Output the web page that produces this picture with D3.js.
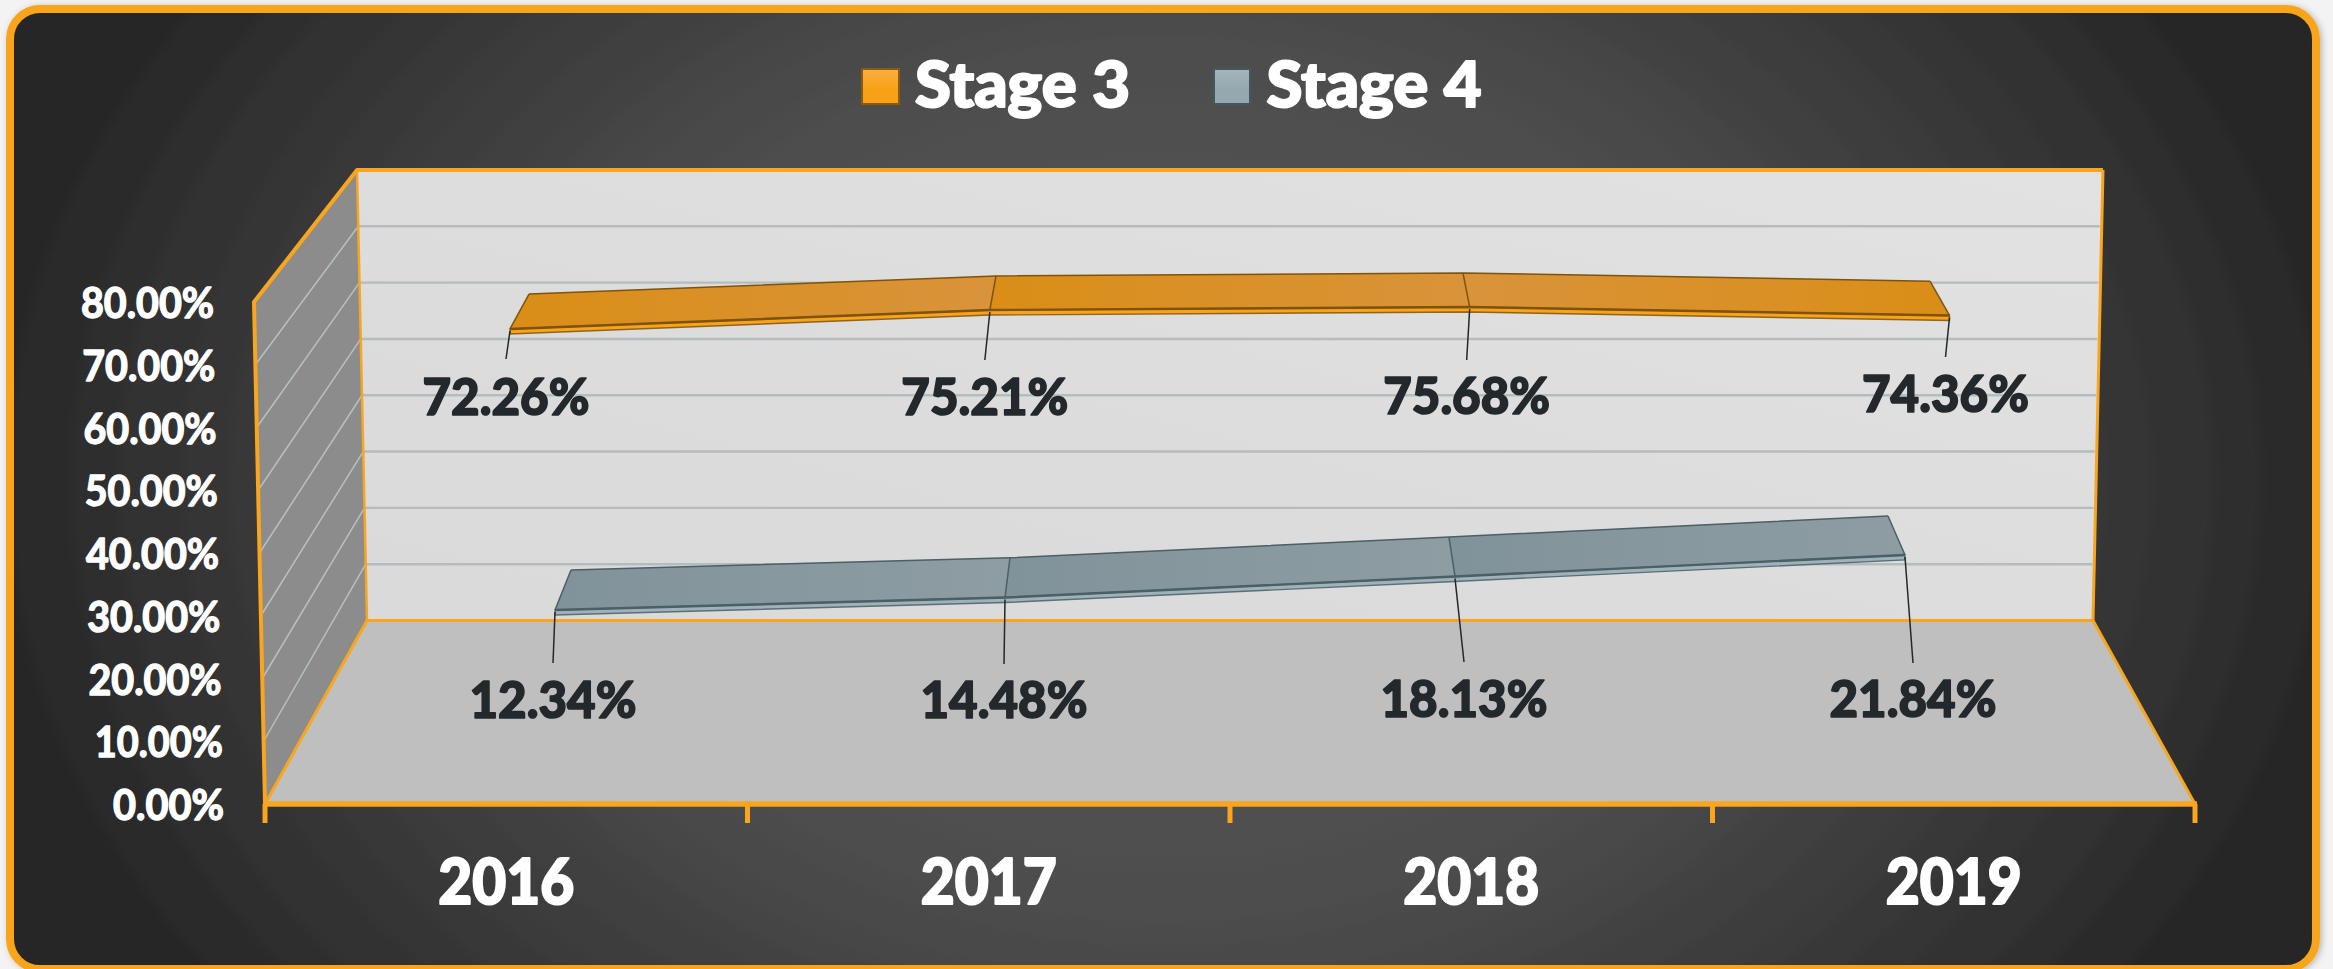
<!DOCTYPE html>
<html>
<head>
<meta charset="utf-8">
<script src="https://cdn.jsdelivr.net/npm/d3@7/dist/d3.min.js"></script>
<style>
html,body{margin:0;padding:0;background:#f3f3f3;overflow:hidden}
svg{display:block}
text{font-family:Lato,"Open Sans",sans-serif;font-weight:700}
</style>
</head>
<body>
<svg id="chart" width="2333" height="969"></svg>
<script>
// ---- data ----
const years = ["2016", "2017", "2018", "2019"];
const stage3 = [72.26, 75.21, 75.68, 74.36];
const stage4 = [12.34, 14.48, 18.13, 21.84];
const seriesNames = ["Stage 3", "Stage 4"];
const valueTicks = [0, 10, 20, 30, 40, 50, 60, 70, 80];

// ---- layout of the pseudo 3D box ----
const ORANGE = "#f9a51e";
const box = {
  frontL: 265, frontR: 2195, frontY0: 804, frontY80: 302, frontLTop: 254, frontRTop: 2206,
  backL: 367, backLTop: 357, backR: 2093, backRTop: 2103, backY0: 620.5, backY80: 170
};
const maxV = 80;
const yFront = d3.scaleLinear().domain([0, maxV]).range([box.frontY0, box.frontY80]);
const yBack = d3.scaleLinear().domain([0, maxV]).range([box.backY0, box.backY80]);
const xFrontL = d3.scaleLinear().domain([0, maxV]).range([box.frontL, box.frontLTop]);
const xBackL = d3.scaleLinear().domain([0, maxV]).range([box.backL, box.backLTop]);
const xBackR = d3.scaleLinear().domain([0, maxV]).range([box.backR, box.backRTop]);
const xBand = d3.scaleBand().domain(years).range([box.frontL, box.frontR]);

// each ribbon lies between two depth planes; each plane has its own projection
function plane(x0, x3, y0, k) {
  const x = d3.scaleLinear().domain([0, years.length - 1]).range([x0, x3]);
  const y = d3.scaleLinear().domain([0, maxV]).range([y0, y0 - maxV * k]);
  return {x, y};
}
const ribbons = [
  {name: seriesNames[0], values: stage3, front: plane(510, 1949.5, 793.6, 6.43), back: plane(529, 1930, 737.7, 6.14),
   faceA: "#da8e17", faceB: "#d9933a", edge: "#7f530c", strip: "#f8a31c",
   pull: [-4, -5, -3, -4], leaderEnd: [359, 360, 360, 357], labelBase: [415, 415, 414, 412]},
  {name: seriesNames[1], values: stage4, front: plane(555, 1905, 681.4, 5.79), back: plane(571, 1888, 640, 5.68),
   faceA: "#81939a", faceB: "#8d9da2", edge: "#4b5f67", strip: "#9fb2b9",
   pull: [-2, -1, 9, 8], leaderEnd: [663, 664, 662, 663], labelBase: [718, 718, 717, 717]}
];

const svg = d3.select("#chart");
const defs = svg.append("defs");

const bg = defs.append("radialGradient").attr("id", "bg").attr("gradientUnits", "userSpaceOnUse")
  .attr("cx", 1166).attr("cy", 480).attr("r", 1166)
  .attr("gradientTransform", "translate(1166 480) scale(1 0.75) translate(-1166 -480)");
bg.append("stop").attr("offset", "0").attr("stop-color", "#5a5a5a");
bg.append("stop").attr("offset", "0.5").attr("stop-color", "#4d4d4d");
bg.append("stop").attr("offset", "1").attr("stop-color", "#282828");

const wallG = defs.append("linearGradient").attr("id", "wall").attr("x1", 1).attr("y1", 0).attr("x2", 0).attr("y2", 1);
wallG.append("stop").attr("offset", "0").attr("stop-color", "#e2e2e2");
wallG.append("stop").attr("offset", "0.6").attr("stop-color", "#dcdcdc");
wallG.append("stop").attr("offset", "1").attr("stop-color", "#dadada");

const sh = defs.append("filter").attr("id", "shadow").attr("x", "-2%").attr("y", "-2%").attr("width", "104%").attr("height", "104%");
sh.append("feDropShadow").attr("dx", 2).attr("dy", 1).attr("stdDeviation", 3).attr("flood-color", "#000").attr("flood-opacity", 0.25);

// card
svg.append("rect").attr("x", 10).attr("y", 9).attr("width", 2306).attr("height", 960).attr("rx", 30)
  .attr("fill", "url(#bg)").attr("stroke", ORANGE).attr("stroke-width", 8).attr("filter", "url(#shadow)");

// walls
const poly = pts => "M" + pts.map(p => p.join(",")).join("L") + "Z";
svg.append("path").attr("d", poly([[xFrontL(maxV), yFront(maxV)], [xBackL(maxV), yBack(maxV)], [xBackL(0), yBack(0)], [xFrontL(0), yFront(0)]]))
  .attr("fill", "#8c8c8c");
svg.append("path").attr("d", poly([[xBackL(maxV), yBack(maxV)], [xBackR(maxV), yBack(maxV)], [xBackR(0), yBack(0)], [xBackL(0), yBack(0)]]))
  .attr("fill", "url(#wall)");
svg.append("path").attr("d", poly([[box.backL, box.backY0], [box.backR, box.backY0], [box.frontR, box.frontY0], [box.frontL, box.frontY0]]))
  .attr("fill", "#bfbfbf");

// gridlines
const gridVals = valueTicks.filter(v => v > 0 && v < maxV);
svg.append("g").selectAll("line").data(gridVals).join("line")
  .attr("x1", v => xBackL(v)).attr("x2", v => xBackR(v) - 2).attr("y1", v => yBack(v)).attr("y2", v => yBack(v))
  .attr("stroke", "#b3bdbe").attr("stroke-width", 2.4);
svg.append("g").selectAll("line").data(gridVals).join("line")
  .attr("x1", v => xFrontL(v)).attr("x2", v => xBackL(v)).attr("y1", v => yFront(v)).attr("y2", v => yBack(v))
  .attr("stroke", "#b8c0c1").attr("stroke-width", 1.5);

// box outlines
const outline = (pts, w) => svg.append("path").attr("d", "M" + pts.map(p => p.join(",")).join("L"))
  .attr("fill", "none").attr("stroke", ORANGE).attr("stroke-width", w).attr("stroke-linejoin", "round");
outline([[xFrontL(0), yFront(0)], [xFrontL(maxV), yFront(maxV)], [xBackL(maxV), yBack(maxV)], [xBackR(maxV), yBack(maxV)]], 4);
outline([[xBackL(maxV), yBack(maxV)], [xBackL(0), yBack(0)]], 2.5);
outline([[xBackR(maxV), yBack(maxV)], [xBackR(0), yBack(0)]], 3);
outline([[box.frontL, box.frontY0], [box.backL, box.backY0], [box.backR, box.backY0], [box.frontR, box.frontY0]], 3);
outline([[box.frontL - 2, box.frontY0], [box.frontR + 2, box.frontY0]], 5.5);

// category tick marks at the band edges
const tickEdges = years.map(y => xBand(y)).concat([xBand.range()[1]]);
svg.append("g").selectAll("line").data(tickEdges).join("line")
  .attr("x1", d => d).attr("x2", d => d).attr("y1", box.frontY0).attr("y2", box.frontY0 + 19)
  .attr("stroke", ORANGE).attr("stroke-width", 5);

// heavier look for the text, as the reference face is bolder than any installed face
const heavy = (sel, w, col) => sel.attr("stroke", col).attr("stroke-width", w).attr("stroke-linejoin", "round").style("paint-order", "stroke");

// category axis
const xAxis = svg.append("g").attr("transform", `translate(0,${box.frontY0})`)
  .call(d3.axisBottom(xBand).tickSize(0));
xAxis.select(".domain").remove();
xAxis.selectAll("text").attr("y", 100).attr("dy", 0).attr("fill", "#fff")
  .style("font-size", "62px").style("font-weight", 900).style("font-family", "Lato, sans-serif")
  .attr("text-anchor", "middle").attr("textLength", 136).attr("lengthAdjust", "spacingAndGlyphs")
  .call(heavy, 2, "#fff");

// value axis labels follow the slanted front edge
const fmt = v => d3.format(".2f")(v) + "%";
svg.append("g").selectAll("text").data(valueTicks).join("text")
  .attr("x", v => 224 - v / maxV * 10).attr("y", v => yFront(v) + 16)
  .attr("text-anchor", "end").attr("fill", "#fff").attr("font-size", 42)
  .attr("textLength", v => v === 0 ? 111 : v === 10 ? 128 : 133).attr("lengthAdjust", "spacingAndGlyphs")
  .text(fmt).call(heavy, 1.4, "#fff");

// ribbons
ribbons.forEach((s, si) => {
  const g = svg.append("g");
  const n = s.values.length;
  const F = i => [s.front.x(i), s.front.y(s.values[i])];
  const B = i => [s.back.x(i), s.back.y(s.values[i])];
  const thick = 5;

  d3.range(n - 1).forEach(i => {
    const id = `face${si}_${i}`;
    const reversed = si === 0 && i === n - 2;
    const lg = defs.append("linearGradient").attr("id", id).attr("gradientUnits", "userSpaceOnUse")
      .attr("x1", F(i)[0]).attr("x2", F(i + 1)[0]).attr("y1", 0).attr("y2", 0);
    lg.append("stop").attr("offset", "0").attr("stop-color", reversed ? s.faceB : s.faceA);
    lg.append("stop").attr("offset", "1").attr("stop-color", reversed ? s.faceA : s.faceB);
    g.append("path").attr("d", poly([F(i), F(i + 1), B(i + 1), B(i)])).attr("fill", `url(#${id})`);
  });
  // strip under the front edge
  const lower = p => [p[0], p[1] + thick];
  const frontPts = d3.range(n).map(F);
  g.append("path").attr("d", poly(frontPts.concat(frontPts.map(lower).reverse())))
    .attr("fill", s.strip).attr("stroke", s.edge).attr("stroke-width", 1.4).attr("stroke-opacity", 0.85);
  // outlines
  const line = d3.line();
  g.append("path").attr("d", line(frontPts)).attr("fill", "none").attr("stroke", s.edge).attr("stroke-width", 2.4);
  g.append("path").attr("d", line(d3.range(n).map(B))).attr("fill", "none").attr("stroke", s.edge).attr("stroke-width", 1.5);
  d3.range(n).forEach(i => {
    g.append("path").attr("d", line([F(i), B(i)])).attr("fill", "none").attr("stroke", s.edge).attr("stroke-width", 1.5);
  });
  // leader lines
  g.selectAll("line.leader").data(s.values).join("line").attr("class", "leader")
    .attr("x1", (d, i) => F(i)[0]).attr("y1", (d, i) => F(i)[1] + 2)
    .attr("x2", (d, i) => F(i)[0] + s.pull[i]).attr("y2", (d, i) => s.leaderEnd[i])
    .attr("stroke", "#22282c").attr("stroke-width", 1.5);
  // data labels
  g.selectAll("text").data(s.values).join("text")
    .attr("x", (d, i) => F(i)[0] + s.pull[i]).attr("y", (d, i) => s.labelBase[i])
    .attr("text-anchor", "middle").attr("fill", "#23282c").attr("font-size", 52).style("font-weight", 900)
    .attr("textLength", 167).attr("lengthAdjust", "spacingAndGlyphs")
    .text(fmt).call(heavy, 1.6, "#23282c");
});

// legend
const legendColors = [
  {top: "#fbae42", bottom: "#f9a116", edge: "#8a5a10", x: 862, w: 37, tx: 915},
  {top: "#a3b5bb", bottom: "#95a8af", edge: "#43575f", x: 1214, w: 36, tx: 1266.5}
];
legendColors.forEach((c, i) => {
  const id = "leg" + i;
  const lg = defs.append("linearGradient").attr("id", id).attr("x1", 0).attr("y1", 0).attr("x2", 0).attr("y2", 1);
  lg.append("stop").attr("offset", "0").attr("stop-color", c.top);
  lg.append("stop").attr("offset", "0.6").attr("stop-color", c.bottom);
  svg.append("rect").attr("x", c.x).attr("y", 69).attr("width", c.w).attr("height", 35)
    .attr("fill", `url(#${id})`).attr("stroke", c.edge).attr("stroke-width", 2);
  svg.append("text").attr("x", c.tx).attr("y", 107).attr("fill", "#fff").attr("font-size", 62)
    .style("font-weight", 900).attr("textLength", 215).attr("lengthAdjust", "spacingAndGlyphs")
    .text(seriesNames[i]).call(heavy, 2, "#fff");
});
</script>
</body>
</html>
